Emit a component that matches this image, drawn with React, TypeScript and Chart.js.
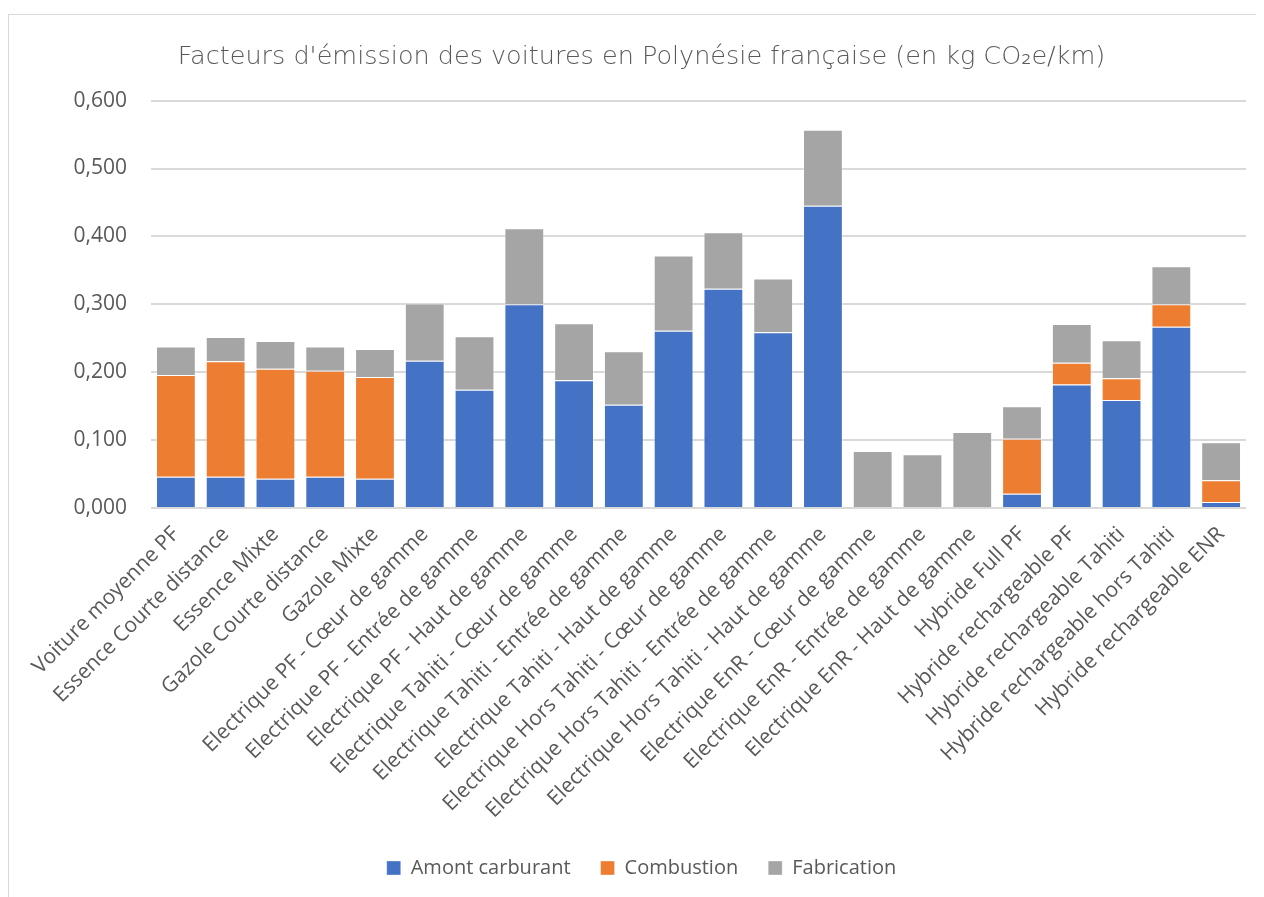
import React, { useEffect, useRef } from "react";
import { Chart, registerables } from "chart.js";

Chart.register(...registerables);

const categories: string[] = [
  "Voiture moyenne PF",
  "Essence Courte distance",
  "Essence Mixte",
  "Gazole Courte distance",
  "Gazole Mixte",
  "Electrique PF - Cœur de gamme",
  "Electrique PF - Entrée de gamme",
  "Electrique PF - Haut de gamme",
  "Electrique Tahiti - Cœur de gamme",
  "Electrique Tahiti - Entrée de gamme",
  "Electrique Tahiti - Haut de gamme",
  "Electrique Hors Tahiti - Cœur de gamme",
  "Electrique Hors Tahiti - Entrée de gamme",
  "Electrique Hors Tahiti - Haut de gamme",
  "Electrique EnR - Cœur de gamme",
  "Electrique EnR - Entrée de gamme",
  "Electrique EnR - Haut de gamme",
  "Hybride Full PF",
  "Hybride rechargeable PF",
  "Hybride rechargeable Tahiti",
  "Hybride rechargeable hors Tahiti",
  "Hybride rechargeable ENR",
];

const amontCarburant: number[] = [
  0.046, 0.046, 0.043, 0.046, 0.043, 0.217, 0.174, 0.300, 0.188, 0.152, 0.261,
  0.323, 0.259, 0.445, 0.0, 0.0, 0.0, 0.021, 0.182, 0.159, 0.267, 0.009,
];

const combustion: number[] = [
  0.150, 0.170, 0.162, 0.156, 0.150, 0.0, 0.0, 0.0, 0.0, 0.0, 0.0,
  0.0, 0.0, 0.0, 0.0, 0.0, 0.0, 0.081, 0.032, 0.032, 0.033, 0.032,
];

const fabrication: number[] = [
  0.042, 0.036, 0.041, 0.036, 0.041, 0.084, 0.079, 0.112, 0.084, 0.079, 0.111,
  0.083, 0.079, 0.112, 0.084, 0.079, 0.112, 0.048, 0.057, 0.056, 0.056, 0.056,
];

const seriesNames: string[] = ["Amont carburant", "Combustion", "Fabrication"];

const yTickLabels: string[] = ["0,000", "0,100", "0,200", "0,300", "0,400", "0,500", "0,600"];

const titleText = "Facteurs d'émission des voitures en Polynésie française (en kg CO₂e/km)";

export default function App() {
  const canvasRef = useRef<HTMLCanvasElement | null>(null);

  useEffect(() => {
    if (!canvasRef.current) return;
    const textColor = "#595959";
    const chart = new Chart(canvasRef.current, {
      type: "bar",
      data: {
        labels: categories,
        datasets: [
          { label: seriesNames[0], data: amontCarburant, backgroundColor: "#4472C4", borderColor: "rgba(255,255,255,0.35)", borderWidth: 1 },
          { label: seriesNames[1], data: combustion, backgroundColor: "#ED7D31", borderColor: "rgba(255,255,255,0.35)", borderWidth: 1 },
          { label: seriesNames[2], data: fabrication, backgroundColor: "#A5A5A5", borderColor: "rgba(255,255,255,0.35)", borderWidth: 1 },
        ],
      },
      options: {
        responsive: false,
        animation: false,
        datasets: { bar: { categoryPercentage: 1, barPercentage: 0.8 } },
        layout: { padding: { left: 28, right: 18, top: 0, bottom: 9 } },
        plugins: {
          title: {
            display: true,
            text: titleText,
            color: textColor,
            font: { family: "'DejaVu Sans'", size: 25.5, weight: 200 },
            padding: { top: 27, bottom: 28 },
          },
          legend: {
            position: "bottom",
            labels: {
              color: textColor,
              font: { family: "'Open Sans'", size: 20 },
              boxWidth: 14,
              boxHeight: 14,
              padding: 30,
            },
          },
          tooltip: { enabled: false },
        },
        scales: {
          x: {
            stacked: true,
            grid: { display: false },
            border: { display: false },
            ticks: {
              color: textColor,
              font: { family: "'Open Sans'", size: 21 },
              minRotation: 45,
              maxRotation: 45,
              autoSkip: false,
              padding: 6,
            },
            afterFit: (scale: any) => {
              scale.height = 320;
            },
          },
          y: {
            stacked: true,
            min: 0,
            max: 0.6,
            border: { display: false },
            grid: { color: "#D9D9D9", lineWidth: 2, drawTicks: false },
            ticks: {
              stepSize: 0.1,
              color: textColor,
              font: { family: "'Open Sans'", size: 21 },
              padding: 24,
              callback: (_v: any, i: number) => yTickLabels[i],
            },
            afterFit: (scale: any) => {
              scale.width = 114;
            },
          },
        },
      },
    });
    return () => chart.destroy();
  }, []);

  return (
    <div
      style={{
        marginTop: 6,
        width: 1256,
        height: 883,
        borderTop: "1px solid #D9D9D9",
        borderLeft: "1px solid #D9D9D9",
        boxSizing: "border-box",
        position: "relative",
        background: "#fff",
      }}
    >
      <canvas ref={canvasRef} width={1255} height={882} style={{ display: "block" }} />
    </div>
  );
}
